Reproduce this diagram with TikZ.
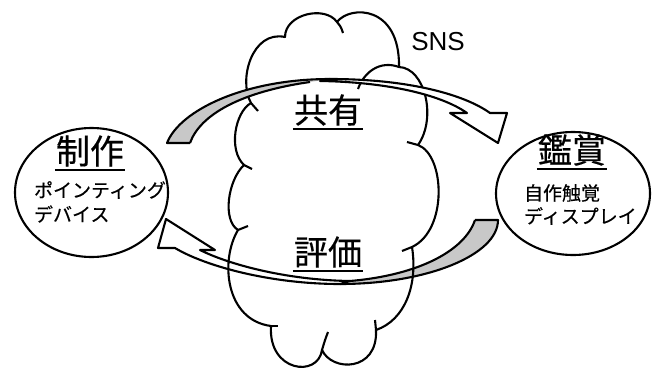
\documentclass[tikz,border=0pt]{standalone}
\usepackage{fontspec}
\newfontfamily\jp{Noto Sans CJK JP}[FakeBold=0.4]
\newfontfamily\lat{Liberation Sans}
\usetikzlibrary{calc}
\definecolor{backgray}{RGB}{200,200,200}
\begin{document}
\begin{tikzpicture}[x=1pt,y=-1pt,line width=2.1pt,line join=round,
  big/.style={font=\jp\fontsize{34}{34}\selectfont,inner sep=0pt},
  small/.style={font=\jp\fontsize{19}{19}\selectfont,inner sep=0pt,anchor=west},
  uline/.style={line width=1.9pt},
  tick/.style={line width=2.1pt}]
\useasboundingbox (0,0) rectangle (655,367);

% circles
\draw (91.5,192.5) ellipse [x radius=76.5, y radius=64.5];
\draw (573,193.5) ellipse [x radius=77, y radius=61.5];

% lower arrow (behind the cloud outline)
\fill[backgray] (498,220) .. controls (498,255) and (427,284) .. (340,284) -- (350,281) .. controls (420,275) and (465,250) .. (475,220) -- cycle;
\draw (475,220) -- (498,220) .. controls (498,255) and (427,284) .. (340,284);
\draw (475,220) .. controls (465,250) and (420,275) .. (350,281);
\filldraw[fill=white] (340,284) .. controls (270,284) and (205,266) .. (175,248) -- (158,248) -- (166,219) -- (215,250) -- (200,250) .. controls (228,264) and (285,280) .. (350,281) -- cycle;

% cloud
\draw (285,37) .. controls (285,14) and (325,5) .. (337,22)
  .. controls (350,5) and (400,5) .. (399,67)
  .. controls (425,68) and (437,118) .. (418,145)
  .. controls (445,155) and (448,230) .. (412,247)
  .. controls (418,285) and (405,320) .. (376,330)
  .. controls (378,372) and (332,372) .. (322,350)
  .. controls (318,378) and (268,372) .. (271,326)
  .. controls (225,320) and (220,260) .. (238,230)
  .. controls (222,220) and (228,180) .. (244,165)
  .. controls (228,150) and (235,112) .. (251,103)
  .. controls (238,80) and (252,30) .. (285,37) -- cycle;
\draw[tick] (337,22) .. controls (341,27) .. (343,33);
\draw[tick] (399,67) .. controls (380,60) and (364,72) .. (358,89);
\draw[tick] (418,145) .. controls (413,143) .. (407,142);
\draw[tick] (412,247) -- (402,251);
\draw[tick] (376,330) -- (375,320);
\draw[tick] (322,350) .. controls (325,340) .. (328,332);
\draw[tick] (271,326) -- (278,326);
\draw[tick] (238,230) -- (248,226);
\draw[tick] (244,165) -- (252,169);
\draw[tick] (251,103) -- (258,111);

% upper arrow (over the cloud)
\fill[backgray] (167,143) .. controls (180,110) and (245,79) .. (330,79) -- (310,82) .. controls (240,92) and (200,115) .. (190,143) -- cycle;
\draw (190,143) -- (167,143) .. controls (180,110) and (245,79) .. (330,79);
\draw (190,143) .. controls (200,115) and (240,92) .. (310,82);
\filldraw[fill=white] (330,79) .. controls (410,79) and (465,95) .. (490,113) -- (507,113) -- (498,143) -- (450,113) -- (467,113) .. controls (440,94) and (385,82) .. (320,81) -- cycle;

% texts
\node[font=\lat\fontsize{26}{26}\selectfont,inner sep=0pt] (sns) at (438,42) {SNS};

\node[big] (seisaku) at (90,151) {制作};
\draw[uline] ($(seisaku.south west)+(0,2.5)$) -- ($(seisaku.south east)+(0,2.5)$);
\node[small] (pd1) at (33,190) {ポインティング};
\node[small] (pd2) at (33,214) {デバイス};

\node[big] (kansho) at (572,150) {鑑賞};
\draw[uline] ($(kansho.south west)+(0,2.5)$) -- ($(kansho.south east)+(0,2.5)$);
\node[small] (hd1) at (523,193) {自作触覚};
\node[small] (hd2) at (523,216) {ディスプレイ};

\node[big] (kyoyu) at (328,110) {共有};
\draw[uline] ($(kyoyu.south west)+(0,2.5)$) -- ($(kyoyu.south east)+(0,2.5)$);

\node[big] (hyoka) at (328,252) {評価};
\draw[uline] ($(hyoka.south west)+(0,2.5)$) -- ($(hyoka.south east)+(0,2.5)$);
\end{tikzpicture}
\end{document}
